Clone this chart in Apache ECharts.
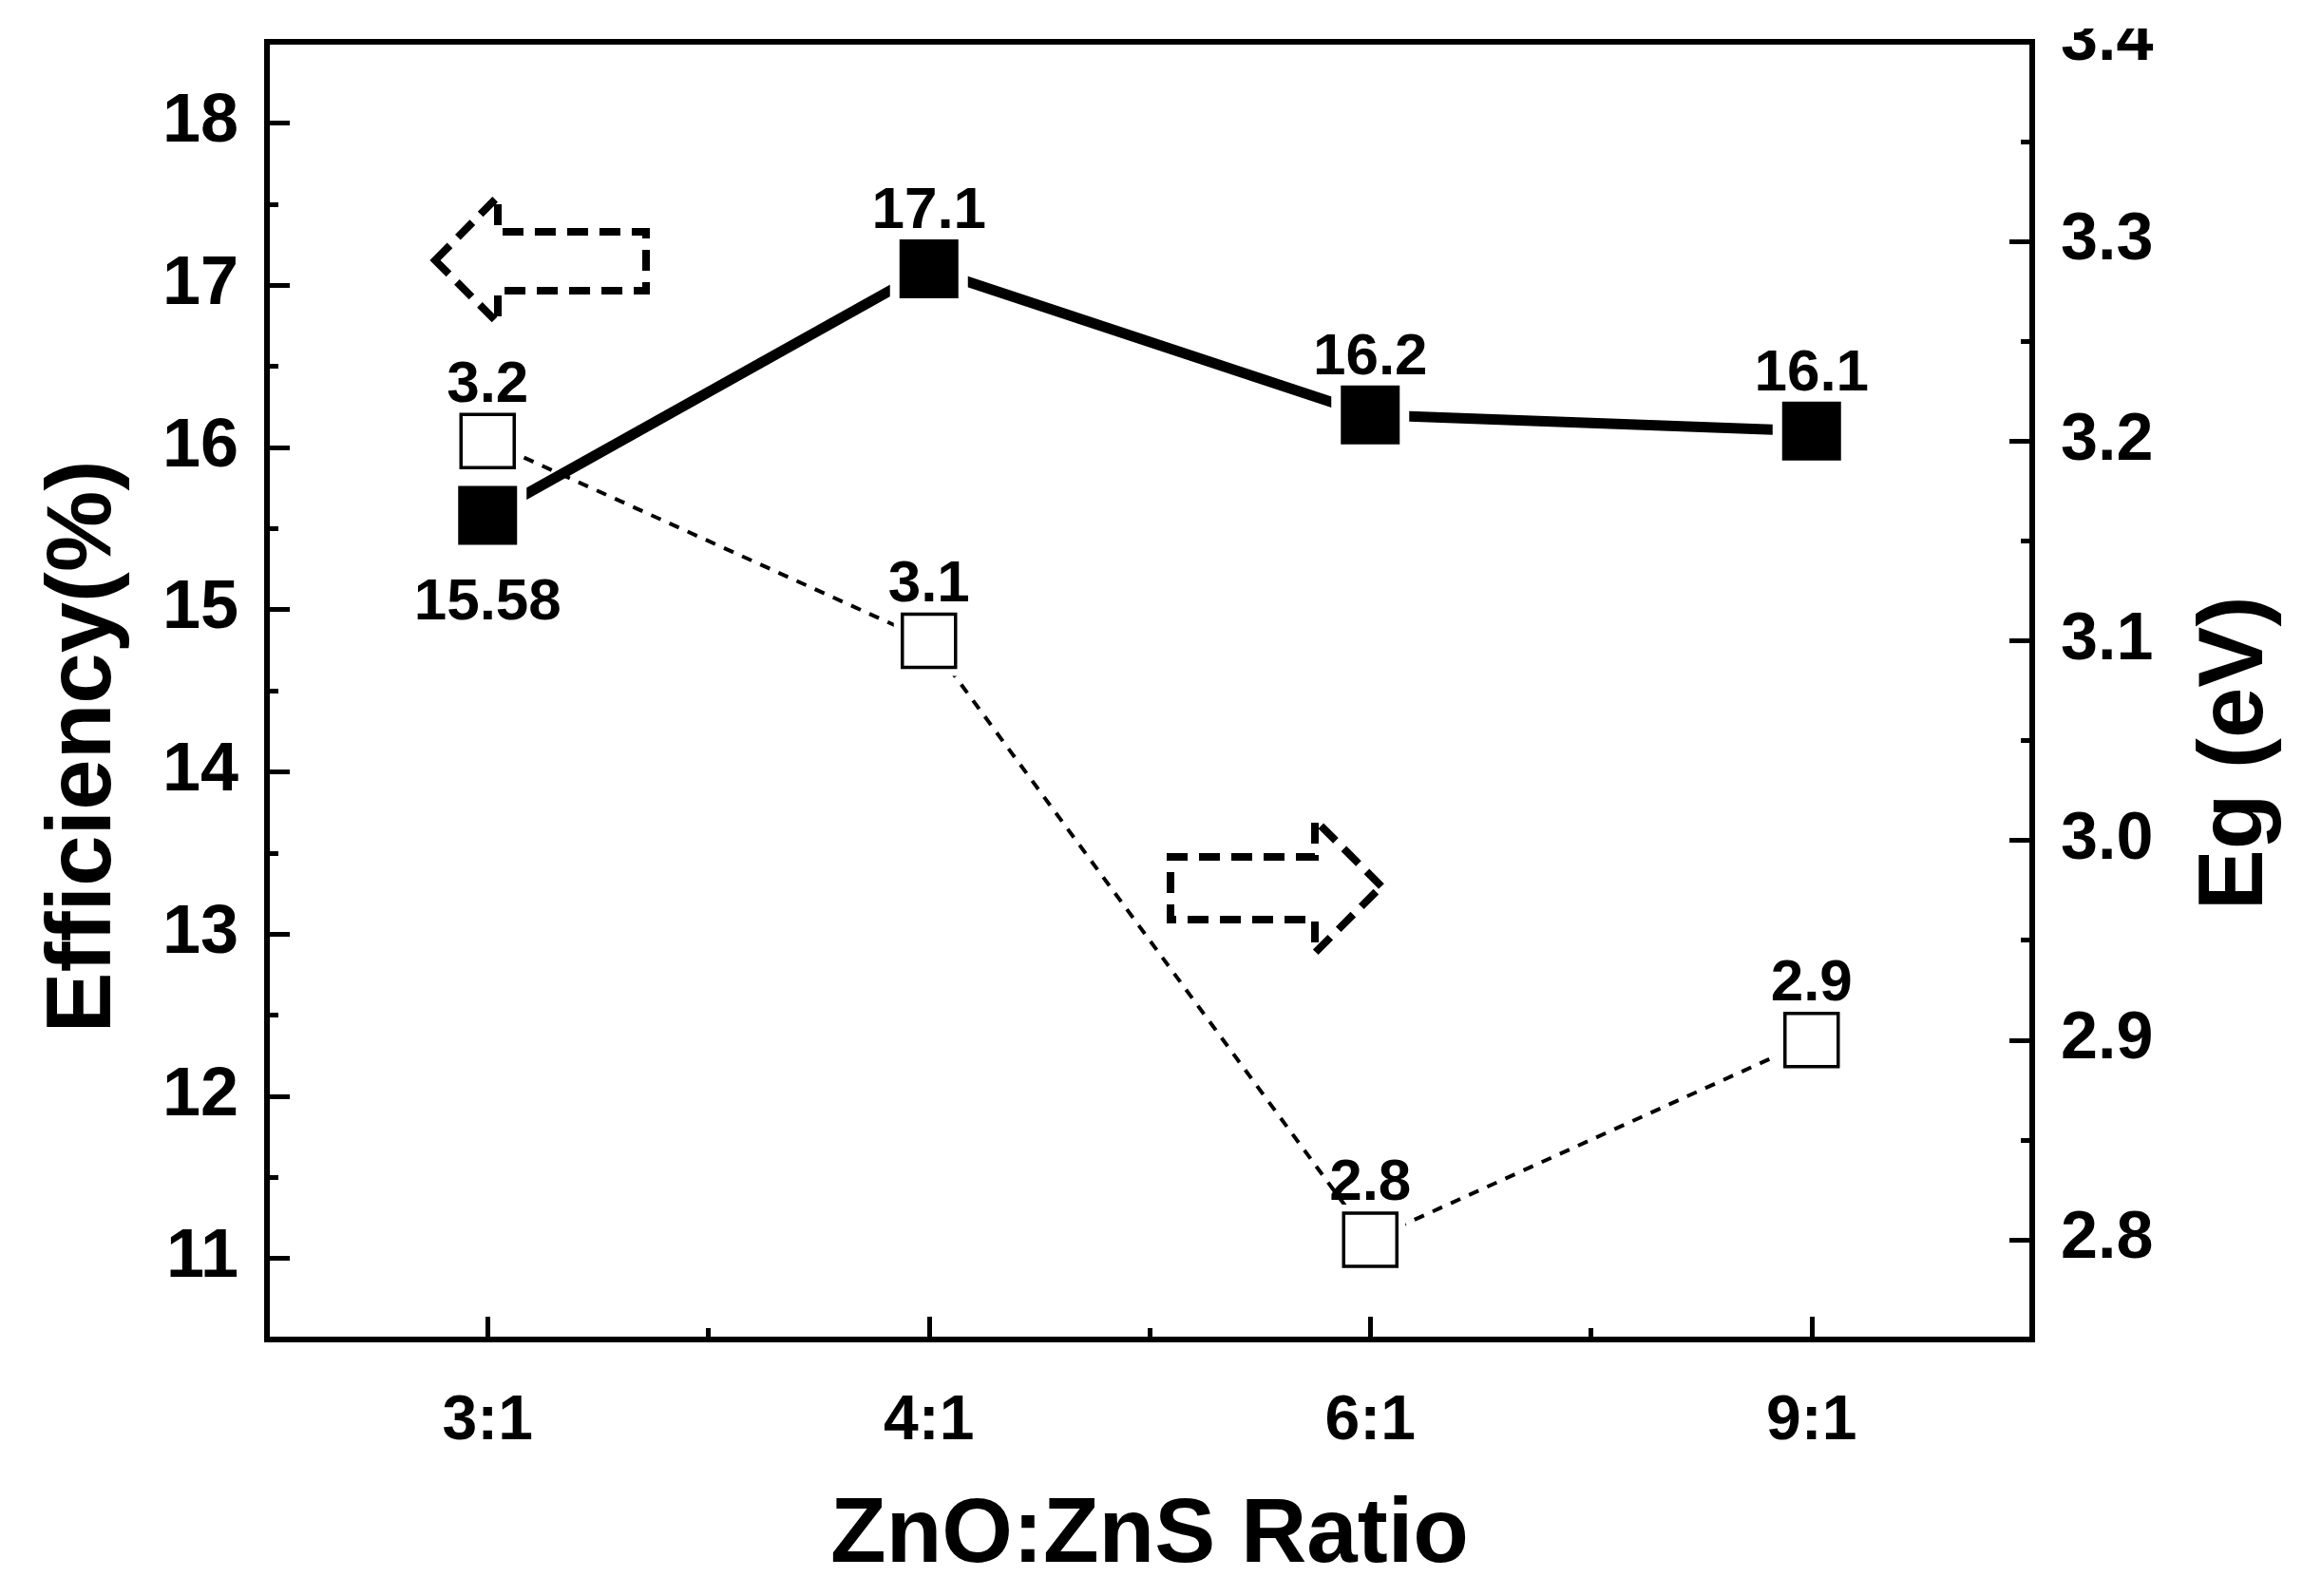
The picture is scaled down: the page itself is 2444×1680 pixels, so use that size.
<!DOCTYPE html>
<html><head><meta charset="utf-8">
<script src="https://cdn.jsdelivr.net/npm/echarts@6/dist/echarts.min.js"></script>
<style>html,body{margin:0;padding:0;background:#fff}#c{width:2444px;height:1680px}</style>
</head><body><div id="c"></div>
<script>
// ---- data ----
const categories = ['3:1', '4:1', '6:1', '9:1'];
const efficiency = [15.58, 17.1, 16.2, 16.1];      // left axis, %
const bandgap = [3.2, 3.1, 2.8, 2.9];               // right axis, eV
const effTicks = [11, 12, 13, 14, 15, 16, 17, 18];
const effMinorTicks = [11.5, 12.5, 13.5, 14.5, 15.5, 16.5, 17.5];
const egTicks = [2.8, 2.9, 3.0, 3.1, 3.2, 3.3, 3.4];
const egMinorTicks = [2.85, 2.95, 3.05, 3.15, 3.25, 3.35];
const catTicks = [0, 1, 2, 3];
const catMinorTicks = [0.5, 1.5, 2.5];
const leftTitle = 'Efficiency(%)';
const rightTitle = 'Eg (eV)';
const bottomTitle = 'ZnO:ZnS Ratio';

const FONT = '"Liberation Sans", Arial, sans-serif';
const NARROW = '"Liberation Sans Narrow", "Liberation Sans", Arial, sans-serif';
const chart = echarts.init(document.getElementById('c'), null, {renderer: 'canvas'});

const tickStyle = {color: '#000', width: 5};
function minorAxis(base) {
  return Object.assign({
    axisLine: {show: false, onZero: false},
    axisLabel: {show: false},
    splitLine: {show: false}
  }, base);
}
const titleStyle = {fontFamily: FONT, fontWeight: 'bold', fontSize: 96, fill: '#000', align: 'center', verticalAlign: 'middle'};

const option = {
  backgroundColor: '#fff',
  animation: false,
  grid: {left: 281, top: 44, width: 1858, height: 1366, show: true, borderColor: '#000', borderWidth: 6},
  xAxis: [
    {
      type: 'value', min: -0.5, max: 3.5, position: 'bottom',
      axisLine: {show: false, onZero: false}, splitLine: {show: false},
      axisTick: {show: true, inside: true, length: 24, lineStyle: tickStyle, customValues: catTicks},
      axisLabel: {customValues: catTicks, formatter: v => categories[Math.round(v)], fontFamily: NARROW, fontWeight: 'bold', fontSize: 66, color: '#000', margin: 54},
      name: bottomTitle, nameLocation: 'middle', nameGap: 160,
      nameTextStyle: {fontFamily: FONT, fontWeight: 'bold', fontSize: 96, color: '#000'}
    },
    minorAxis({type: 'value', min: -0.5, max: 3.5, position: 'bottom',
      axisTick: {show: true, inside: true, length: 12, lineStyle: tickStyle, customValues: catMinorTicks}})
  ],
  yAxis: [
    {
      type: 'value', min: 10.5, max: 18.5, position: 'left',
      axisLine: {show: false, onZero: false}, splitLine: {show: false},
      axisTick: {show: true, inside: true, length: 24, lineStyle: tickStyle, customValues: effTicks},
      axisLabel: {customValues: effTicks, fontFamily: FONT, fontWeight: 'bold', fontSize: 72, color: '#000', margin: 30}
    },
    minorAxis({type: 'value', min: 10.5, max: 18.5, position: 'left',
      axisTick: {show: true, inside: true, length: 12, lineStyle: tickStyle, customValues: effMinorTicks}}),
    {
      type: 'value', min: 2.75, max: 3.4, position: 'right',
      axisLine: {show: false, onZero: false}, splitLine: {show: false},
      axisTick: {show: true, inside: true, length: 24, lineStyle: tickStyle, customValues: egTicks},
      axisLabel: {customValues: egTicks, formatter: v => v.toFixed(1), fontFamily: FONT, fontWeight: 'bold', fontSize: 70, color: '#000', margin: 30}
    },
    minorAxis({type: 'value', min: 2.75, max: 3.4, position: 'right',
      axisTick: {show: true, inside: true, length: 12, lineStyle: tickStyle, customValues: egMinorTicks}})
  ],
  series: [
    {
      type: 'line', xAxisIndex: 0, yAxisIndex: 0, z: 2,
      data: efficiency.map((v, i) => [i, v]),
      showSymbol: false, symbol: 'none',
      lineStyle: {color: '#000', width: 11}
    },
    {
      type: 'line', xAxisIndex: 0, yAxisIndex: 2, z: 2,
      data: bandgap.map((v, i) => [i, v]),
      showSymbol: false, symbol: 'none',
      lineStyle: {color: '#000', width: 4, type: [11, 10]}
    },
    {
      type: 'scatter', xAxisIndex: 0, yAxisIndex: 2, z: 3,
      data: bandgap.map((v, i) => [i, v]),
      symbol: 'rect', symbolSize: 74, itemStyle: {color: '#fff', opacity: 1}, silent: true
    },
    {
      type: 'scatter', xAxisIndex: 0, yAxisIndex: 0, z: 4,
      data: efficiency.map((v, i) => ({value: [i, v], label: i === 0 ? {position: 'bottom', distance: 20} : undefined})),
      symbol: 'rect', symbolSize: 72,
      itemStyle: {color: '#000', borderColor: '#fff', borderWidth: 10, opacity: 1},
      label: {show: true, position: 'top', distance: -12, formatter: p => String(p.value[1]),
        fontFamily: FONT, fontWeight: 'bold', fontSize: 62, color: '#000'}
    },
    {
      type: 'scatter', xAxisIndex: 0, yAxisIndex: 2, z: 4,
      data: bandgap.map((v, i) => [i, v]),
      symbol: 'rect', symbolSize: 56,
      itemStyle: {color: '#fff', borderColor: '#000', borderWidth: 3.5, opacity: 1},
      label: {show: true, position: 'top', distance: -2, formatter: p => p.value[1].toFixed(1),
        fontFamily: FONT, fontWeight: 'bold', fontSize: 62, color: '#000'}
    }
  ],
  graphic: [
    {type: 'text', z: 10, silent: true, x: 90, y: 786, rotation: Math.PI / 2,
      style: Object.assign({text: leftTitle}, titleStyle)},
    {type: 'text', z: 10, silent: true, x: 2355, y: 793, rotation: Math.PI / 2,
      style: Object.assign({text: rightTitle}, titleStyle)},
    {
      type: 'polygon', z: 5, silent: true,
      shape: {points: [[458, 274], [524, 207], [524, 244], [680, 244], [680, 306], [524, 306], [524, 340]]},
      style: {fill: 'none', stroke: '#000', lineWidth: 8, lineDash: [22, 12]}
    },
    {
      type: 'polygon', z: 5, silent: true,
      shape: {points: [[1454, 933], [1384, 863], [1384, 902], [1232, 902], [1232, 968], [1384, 968], [1384, 1003]]},
      style: {fill: 'none', stroke: '#000', lineWidth: 8, lineDash: [22, 12]}
    },
    {
      type: 'rect', z: 100, silent: true,
      shape: {x: 2152, y: 0, width: 260, height: 30},
      style: {fill: '#fff'}
    }
  ]
};
chart.setOption(option);
</script>
</body></html>
